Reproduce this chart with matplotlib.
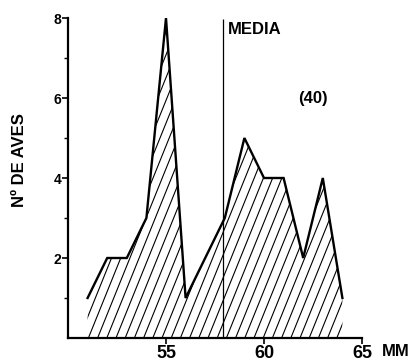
import numpy as np
import matplotlib
matplotlib.use('Agg')
import matplotlib.pyplot as plt
from matplotlib.patches import Polygon
from matplotlib.collections import LineCollection

plt.rcParams['font.family'] = ['Liberation Sans', 'DejaVu Sans']
plt.rcParams['font.weight'] = 'bold'

# wing length (mm) and number of birds
mm = [51, 52, 53, 54, 55, 56, 57, 58, 59, 60, 61, 62, 63, 64]
aves = [1, 2, 2, 3, 8, 1, 2, 3, 5, 4, 4, 2, 4, 1]
media = 57.9
n_total = '(40)'

x_ticks = [55, 60, 65]
y_ticks = [2, 4, 6, 8]
y_minor = [1, 3, 5, 7]

W, H = 415, 363
fig = plt.figure(figsize=(W / 100, H / 100), dpi=100)
ax = fig.add_axes([68 / W, 1 - 338 / H, 294 / W, 320 / H])
ax.set_xlim(50, 65)
ax.set_ylim(0, 8)

# hatched area under the polygon (steep hatching like the original drawing)
verts = list(zip(mm, aves)) + [(mm[-1], 0), (mm[0], 0)]
poly = Polygon(verts, closed=True, facecolor='none', edgecolor='none')
ax.add_patch(poly)
px_x = 294 / 15.0   # pixels per mm
px_y = 320 / 8.0    # pixels per bird
slope = np.tan(np.radians(68)) * px_x / px_y
step = 9.2 / px_x
segs = [[(x0, 0), (x0 + 9 / slope, 9)] for x0 in np.arange(44, 66, step)]
hatch = LineCollection(segs, colors='black', linewidths=0.8)
hatch.set_clip_path(poly)
ax.add_collection(hatch)

# outline
ax.plot(mm, aves, color='black', lw=1.7, solid_joinstyle='miter')

# media line
ax.vlines(media, 0, 7.97, color='black', lw=0.9)
ax.text(media + 0.25, 7.7, 'MEDIA', fontsize=12, fontweight='bold', ha='left', va='center')
ax.text(62.5, 6.0, n_total, fontsize=12, fontweight='bold', ha='center', va='center')

for s in ['top', 'right']:
    ax.spines[s].set_visible(False)
for s in ['left', 'bottom']:
    ax.spines[s].set_linewidth(1.6)

ax.set_yticks(y_ticks)
ax.set_yticks(y_minor, minor=True)
ax.set_xticks(x_ticks)
ax.set_xticklabels([str(t) for t in x_ticks], fontsize=13, fontweight='bold')
ax.set_yticklabels([str(t) for t in y_ticks], fontsize=10, fontweight='bold')
ax.tick_params(axis='y', which='major', direction='out', length=4, width=1.2, pad=1)
ax.tick_params(axis='y', which='minor', direction='out', length=3, width=1.0)
ax.tick_params(axis='x', which='major', direction='out', length=4, width=1.2, pad=1)

fig.text(382 / W, 1 - 352 / H, 'MM', fontsize=12, fontweight='bold', ha='left', va='center')
fig.text(20 / W, 1 - 160 / H, 'Nº DE AVES', rotation=90, fontsize=12,
         fontweight='bold', ha='center', va='center')

fig.savefig('out.png', dpi=100, facecolor='white')
